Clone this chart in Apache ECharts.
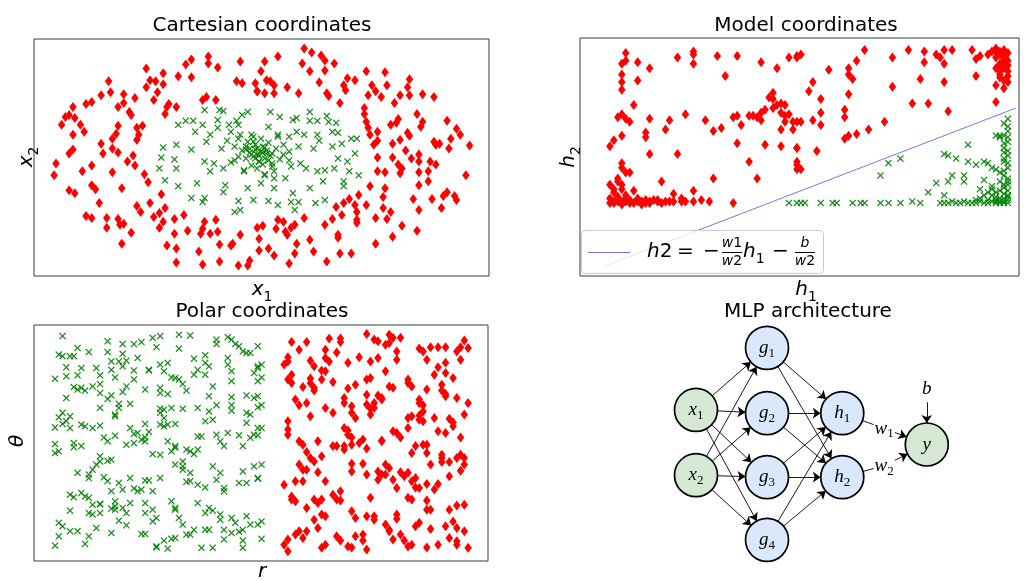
<!DOCTYPE html>
<html>
<head>
<meta charset="utf-8">
<script src="https://cdn.jsdelivr.net/npm/echarts@6/dist/echarts.min.js"></script>
<style>
  html, body { margin: 0; padding: 0; background: #fff; }
  #main { width: 1024px; height: 581px; }
</style>
</head>
<body>
<div id="main"></div>
<script>
// ---------------- data ----------------
// Cartesian coordinates: outer ring (class 1, red) and inner disk (class 0, green)
const cartesianRing = [
  [-0.61,0.89],[-0.52,0.84],[-0.40,0.93],[-0.37,0.98],[-0.28,1.01],[-0.28,0.94],[-0.23,0.90],[-0.11,0.96],[-0.44,0.81],[-0.37,0.80],
  [-0.81,0.76],[-0.80,0.65],[-0.85,0.62],[-0.90,0.55],[-0.93,0.53],[-1.00,0.50],[-1.02,0.42],[-1.04,0.40],[-0.99,0.39],[-1.06,0.32],
  [-0.96,0.32],[-0.94,0.25],[-1.00,0.22],[-1.00,0.07],[-1.02,0.03],[-1.09,-0.07],[-1.10,-0.19],[-0.95,-0.15],[-0.90,-0.09],[-0.85,0.13],
  [-0.84,0.03],[-0.79,0.18],[-0.79,0.08],[-0.76,0.04],[-0.71,-0.05],[-0.68,0.01],[-0.67,-0.09],[-0.62,-0.18],[-0.60,-0.26],[-0.79,-0.16],
  [-0.90,-0.29],[-0.88,-0.33],[-0.74,-0.32],[-1.02,-0.34],[-0.99,-0.37],[-0.86,-0.47],[-0.93,-0.60],[-0.90,-0.62],[-0.82,-0.62],[-0.82,-0.72],
  [-0.76,-0.63],[-0.75,-0.69],[-0.73,-0.68],[-0.69,-0.77],[-0.74,-0.88],[-0.66,-0.50],[-0.64,-0.56],[-0.59,-0.47],[-0.57,-0.61],[-0.54,-0.57],
  [-0.51,-0.52],[-0.53,-0.38],[-0.54,-0.72],[-0.52,-0.66],[-0.46,-0.63],[-0.41,-0.59],[-0.46,-0.78],[-0.39,-0.75],[-0.50,-0.90],[-0.45,-0.93],
  [-0.45,-1.07],[-0.30,-0.66],[-0.31,-0.73],[-0.32,-0.78],[-0.31,-1.09],[-0.33,-0.96],[-0.27,-0.78],[-0.24,-0.64],[-0.23,-0.76],[-0.22,-0.89],
  [-0.22,-1.06],[-0.16,-0.90],[-0.15,-0.88],[-0.11,-0.79],[-0.12,-1.10],[-0.06,-1.05],[-0.07,-1.10],[-0.13,0.76],[-0.10,0.74],[-0.03,0.74],
  [-0.02,0.66],[-0.29,0.60],[-0.24,0.57],[-0.31,0.57],[-0.45,0.50],[-0.50,0.50],[-0.49,0.53],[-0.51,0.43],[-0.57,0.57],[-0.55,0.65],
  [-0.52,0.73],[-0.59,0.77],[-0.56,0.76],[-0.61,0.70],[-0.67,0.59],[-0.73,0.63],[-0.73,0.54],[-0.76,0.50],[-0.70,0.45],[-0.69,0.42],
  [-0.66,0.29],[-0.63,0.31],[-0.65,0.22],[-0.66,0.17],[-0.76,0.31],[-0.77,0.23],
  [0.23,1.09],[0.27,1.05],[0.32,1.02],[0.34,0.97],[0.39,0.94],[0.34,0.87],[0.22,0.94],[0.26,0.86],[0.31,0.75],[0.09,1.01],
  [0.02,0.96],[0.00,0.86],[0.03,0.77],[0.05,0.76],[0.07,0.72],[-0.02,0.66],[0.02,0.64],[0.07,0.64],[0.14,0.70],[0.20,0.64],
  [0.35,0.64],[0.36,0.61],[0.42,0.54],[0.44,0.72],[0.45,0.67],[0.46,0.79],[0.50,0.77],[0.56,0.86],[0.66,0.85],[0.59,0.72],
  [0.57,0.62],[0.61,0.66],[0.64,0.60],[0.67,0.72],[0.74,0.62],[0.78,0.70],[0.79,0.78],[0.79,0.62],[0.86,0.63],[0.92,0.60],
  [0.71,0.54],[0.55,0.49],[0.55,0.43],[0.56,0.35],[0.57,0.29],[0.58,0.22],[0.60,0.12],[0.62,0.25],[0.62,0.16],[0.69,0.32],
  [0.73,0.38],[0.72,0.34],[0.83,0.43],[0.86,0.35],[0.85,0.30],[0.99,0.36],[1.04,0.28],[1.06,0.22],[1.11,0.11],[1.01,0.18],
  [1.00,0.08],[0.70,0.13],[0.74,0.17],[0.78,0.24],[0.79,0.21],[0.77,0.06],[0.80,-0.02],[0.84,0.02],[0.84,-0.05],[0.70,-0.01],
  [0.73,-0.08],[0.75,-0.12],[0.74,-0.17],[0.62,-0.01],[0.62,-0.15],[0.66,-0.16],[0.84,-0.16],[0.89,-0.15],[0.90,-0.05],[0.93,-0.08],
  [0.92,0.15],[0.93,0.12],[0.95,0.13],[0.89,-0.25],[0.84,-0.29],[1.09,-0.19],[0.99,-0.36],[0.97,-0.40],[1.03,-0.40],[1.04,-0.44],
  [0.91,-0.43],[0.96,-0.52],[0.81,-0.43],[0.84,-0.54],[0.58,-0.30],[0.66,-0.32],[0.65,-0.41],[0.65,-0.52],[0.69,-0.56],[0.67,-0.63],
  [0.52,-0.39],[0.50,-0.49],[0.51,-0.56],[0.51,-0.64],[0.51,-0.67],[0.47,-0.43],[0.44,-0.47],[0.40,-0.51],[0.43,-0.59],[0.56,-0.49],
  [0.61,-0.62],[0.61,-0.88],[0.70,-0.81],[0.75,-0.70],[0.83,-0.75],[0.38,-0.63],[0.34,-0.69],[0.41,-0.79],[0.41,-0.82],[0.42,-0.98],
  [0.48,-0.98],[0.35,-1.06],[0.28,-0.96],[0.26,-0.84],[0.23,-0.62],[0.18,-0.69],[0.16,-0.72],[0.19,-0.88],[0.18,-0.98],[0.15,-1.08],
  [0.14,-0.79],[0.13,-0.76],[0.12,-0.66],[0.09,-0.64],[0.08,-0.73],[0.07,-1.00],[0.04,-0.93],[-0.01,-0.95],[-0.01,-0.83],[0.01,-0.70],
  [-0.02,-0.72]
];
const cartesianCore = [
  [-0.52,0.09],[-0.53,-0.01],[-0.54,-0.12],[-0.51,-0.24],[-0.46,-0.03],[-0.45,-0.12],[-0.44,-0.30],[-0.45,0.12],[-0.44,0.32],[-0.40,0.36],
  [-0.36,0.36],[-0.35,0.25],[-0.37,0.07],[-0.37,-0.42],[-0.34,-0.27],[-0.31,-0.46],[-0.30,-0.42],[-0.30,0.47],[-0.30,-0.05],[-0.31,0.32],
  [-0.27,0.22],[-0.29,0.15],[-0.25,-0.07],[-0.23,0.37],[-0.23,0.29],[-0.22,0.47],[-0.20,0.46],[-0.21,0.08],[-0.19,-0.29],[-0.17,0.32],
  [-0.16,0.25],[-0.14,-0.04],[-0.13,0.36],[-0.12,0.32],[-0.10,0.42],[-0.07,0.45],[-0.12,0.18],[-0.12,-0.45],[-0.11,-0.54],[-0.14,-0.56],
  [-0.09,-0.15],[-0.07,-0.32],[-0.04,-0.44],[-0.05,0.22],[-0.01,-0.05],[-0.02,0.08],[-0.08,0.07],[-0.04,0.15],[-0.20,-0.36],[-0.27,-0.15],
  [0.05,0.45],[0.10,0.40],[0.17,0.37],[0.19,0.39],[0.26,0.45],[0.26,0.36],[0.30,0.36],[0.35,0.41],[0.36,0.35],[0.40,0.34],
  [0.04,0.30],[0.09,0.22],[0.15,0.20],[0.19,0.25],[0.20,0.10],[0.23,0.22],[0.30,0.22],[0.31,0.16],[0.28,0.08],[0.38,0.25],
  [0.41,0.24],[0.48,0.18],[0.51,0.18],[0.43,0.13],[0.50,0.03],[0.38,0.10],[0.41,-0.02],[0.46,-0.05],[0.47,-0.15],[0.44,-0.25],
  [0.44,-0.30],[0.52,-0.19],[0.39,-0.12],[0.34,-0.14],[0.30,-0.15],[0.24,-0.12],[0.21,-0.07],[0.15,-0.04],[0.13,-0.22],[0.07,-0.32],
  [0.04,-0.45],[0.09,-0.49],[0.17,-0.37],[0.16,-0.46],[0.20,-0.46],[0.29,-0.47],[0.33,-0.25],[0.34,-0.44],[0.18,-0.54],[0.26,-0.32],
  [0.02,-0.19],[0.00,-0.27],[0.07,-0.22],[0.12,0.02],[0.06,-0.10],
  [-0.02,0.02],[0.00,0.05],[-0.04,0.00],[0.02,-0.02],[-0.06,0.04],[0.03,0.06],[-0.01,-0.05],[0.05,0.01],[-0.08,-0.02],[0.01,0.10],
  [-0.03,0.12],[-0.10,0.06],[0.06,-0.07],[-0.05,-0.09],[0.08,0.08],[-0.12,0.00],[0.04,0.14],[-0.07,0.15],[0.10,-0.03],[-0.02,-0.12],
  [-0.14,0.10],[0.12,0.12],[-0.09,-0.14],[0.07,-0.15],[0.00,0.18],[-0.16,-0.06],[0.15,0.05],[-0.04,0.20],[0.02,-0.18],[-0.18,0.16],
  [0.16,-0.10],[-0.11,0.22],[0.09,0.20],[-0.20,-0.12],[0.03,0.03],[-0.03,-0.02],[0.01,-0.08],[-0.06,0.08],
  [-0.01,0.01],[0.01,0.04],[-0.05,0.02],[0.04,-0.04],[-0.03,0.07],[0.02,0.09],[-0.08,0.10],[0.06,0.03]
];

// Model coordinates: hidden-layer outputs (h1, h2)
const modelRing = [
  [0.04,0.98],[0.04,0.93],[0.03,0.91],[0.07,0.92],[0.10,0.88],[0.07,0.80],[0.03,0.84],[0.03,0.79],[0.03,0.74],[0.06,0.64],
  [0.03,0.58],[0.02,0.56],[0.04,0.55],[0.05,0.53],[0.10,0.55],[0.15,0.54],[0.14,0.48],[0.09,0.46],[0.09,0.43],[0.01,0.41],
  [0.00,0.37],[0.03,0.44],[0.10,0.32],[0.17,0.32],[0.19,0.58],[0.17,0.95],[0.21,0.99],[0.21,0.91],[0.21,0.97],[0.27,0.96],
  [0.32,0.96],[0.29,0.83],[0.38,0.92],[0.42,0.88],[0.45,0.95],[0.47,0.95],[0.24,0.54],[0.26,0.47],[0.28,0.49],[0.31,0.56],
  [0.32,0.57],[0.33,0.51],[0.35,0.57],[0.36,0.57],[0.37,0.56],[0.38,0.54],[0.38,0.59],[0.39,0.61],[0.40,0.69],[0.41,0.72],
  [0.41,0.68],[0.42,0.64],[0.41,0.62],[0.43,0.59],[0.43,0.65],[0.44,0.64],[0.44,0.57],[0.45,0.58],[0.44,0.53],[0.46,0.53],
  [0.43,0.48],[0.46,0.48],[0.47,0.53],[0.32,0.39],[0.39,0.38],[0.43,0.37],[0.47,0.36],[0.35,0.27],[0.37,0.16],[0.26,0.16],
  [0.13,0.14],[0.47,0.27],[0.47,0.22],
  [0.00,0.12],[0.02,0.16],[0.03,0.26],[0.03,0.23],[0.04,0.20],[0.05,0.20],[0.03,0.12],[0.01,0.07],[0.04,0.05],[0.00,0.03],
  [0.01,0.01],[0.02,0.02],[0.03,0.01],[0.04,0.03],[0.04,0.01],[0.05,0.02],[0.07,0.01],[0.08,0.01],[0.09,0.02],[0.10,0.01],
  [0.11,0.02],[0.12,0.01],[0.14,0.01],[0.15,0.01],[0.16,0.06],[0.16,0.01],[0.18,0.01],[0.18,0.03],[0.19,0.01],[0.21,0.08],
  [0.21,0.01],[0.23,0.02],[0.25,0.01],[0.31,0.00],[0.00,0.00],[0.03,-0.01],[0.05,0.00],[0.08,-0.01],[0.10,0.00],
  [0.01,0.00],[0.02,0.01],[0.06,0.00],[0.07,0.03],[0.09,0.00],[0.12,0.02],[0.13,0.00],[0.02,0.04],[0.01,0.09],[0.03,0.09],
  [0.02,0.14],[0.06,0.08],
  [0.47,0.96],[0.48,0.97],[0.55,0.87],[0.60,0.88],[0.62,0.93],[0.64,1.00],[0.71,0.95],[0.75,1.00],[0.79,0.99],[0.79,0.92],
  [0.82,0.97],[0.83,0.95],[0.84,1.00],[0.84,0.91],[0.86,1.00],[0.91,1.00],[0.92,0.94],[0.93,0.96],[0.95,0.97],[0.92,0.83],
  [0.97,1.01],[0.97,0.99],[0.98,0.97],[0.99,1.00],[0.99,0.92],[0.99,0.88],[0.98,0.82],[0.97,0.77],[0.99,0.75],[0.97,0.66],
  [0.98,0.84],[1.00,0.79],[0.97,0.95],[1.00,0.98],[0.99,0.96],[1.00,0.90],[0.98,0.99],[1.00,0.86],
  [0.98,0.91],[0.99,0.94],[0.97,0.88],[1.00,0.93],[0.98,0.86],[0.96,0.99],[0.99,0.80],[1.00,0.83],
  [0.50,0.73],[0.51,0.79],[0.53,0.68],[0.60,0.84],[0.61,0.81],[0.60,0.71],[0.59,0.61],[0.59,0.56],[0.53,0.59],[0.51,0.54],
  [0.53,0.51],[0.48,0.53],[0.60,0.44],[0.59,0.42],[0.62,0.45],[0.65,0.48],[0.69,0.53],[0.71,0.76],[0.76,0.65],[0.80,0.65],
  [0.78,0.81],[0.84,0.79],[0.85,0.60],[0.52,0.34],[0.47,0.36],[0.47,0.25],[0.48,0.22]
];
const modelCore = [
  [0.45,0.00],[0.47,0.00],[0.48,0.00],[0.49,0.00],[0.53,0.00],[0.56,0.00],[0.57,0.00],[0.61,0.00],[0.63,0.00],[0.64,0.00],
  [0.68,0.00],[0.70,0.00],[0.73,0.00],[0.76,0.01],[0.78,0.00],[0.83,0.00],[0.84,0.00],[0.85,0.00],[0.87,0.00],[0.88,0.00],
  [0.90,0.00],[0.91,0.00],[0.92,0.00],[0.94,0.00],[0.95,0.00],[0.97,0.00],[0.98,0.00],[0.99,0.00],[1.00,0.00],
  [0.96,0.01],[0.98,0.03],[0.99,0.01],[1.00,0.04],[0.97,0.01],[0.93,0.01],[0.89,0.01],[0.86,0.01],
  [1.00,0.55],[0.99,0.52],[1.00,0.47],[0.99,0.44],[1.00,0.40],[0.99,0.36],[1.00,0.31],[0.99,0.27],[1.00,0.23],[0.99,0.18],
  [1.00,0.14],[0.99,0.10],[1.00,0.05],[1.00,0.02],[0.98,0.44],[0.97,0.44],[1.00,0.50],[0.99,0.33],[1.00,0.08],[0.99,0.12],
  [1.00,0.12],[0.99,0.06],[1.00,0.16],[0.99,0.21],[1.00,0.26],[0.99,0.29],[1.00,0.34],[0.99,0.39],[1.00,0.43],[0.98,0.08],
  [0.97,0.04],[0.98,0.01],[0.95,0.02],[0.94,0.05],[0.96,0.09],[0.99,0.03],
  [0.68,0.18],[0.70,0.26],[0.73,0.29],[0.90,0.38],[0.84,0.32],[0.85,0.31],[0.87,0.29],[0.90,0.27],[0.92,0.25],[0.94,0.27],
  [0.95,0.26],[0.96,0.23],[0.97,0.22],[0.86,0.18],[0.85,0.14],[0.89,0.18],[0.89,0.14],[0.82,0.13],[0.80,0.07],[0.84,0.05],
  [0.94,0.15],[0.96,0.11],[0.93,0.09],[0.95,0.07],[0.97,0.07],[0.96,0.05],[0.98,0.14],[0.93,0.03],[0.92,0.02],[0.97,0.02],
  [0.98,0.43],[0.98,0.20]
];
// Decision boundary h2 = -(w1/w2) h1 - b/w2, sampled at its two ends
const boundaryLine = [[-0.01,-0.41],[1.02,0.62]];

// Polar coordinates: (r, theta)
const polarRing = [
  [0.63,2.88],[0.67,2.88],[0.65,2.66],[0.73,2.98],[0.76,2.98],[0.76,2.88],[0.72,2.66],[0.75,2.58],[0.62,2.44],[0.62,2.32],
  [0.61,2.23],[0.68,2.34],[0.69,2.18],[0.72,2.42],[0.73,2.32],[0.71,2.06],[0.72,2.04],[0.78,2.28],[0.81,2.44],[0.83,3.11],
  [0.85,2.95],[0.86,2.90],[0.84,2.32],[0.86,2.42],[0.88,2.04],[0.89,3.09],[0.90,3.00],[0.89,2.85],[0.92,3.00],[0.88,2.80],
  [0.91,2.37],[0.91,2.61],[0.98,2.61],[0.97,2.69],[1.00,2.73],[1.02,2.73],[1.04,2.73],[1.07,2.61],[1.08,2.73],[1.09,2.92],
  [1.10,2.71],[0.99,2.37],[1.02,2.15],[1.04,2.28],[1.04,1.99],[1.01,1.94],[1.06,1.84],[1.08,2.37],[0.63,1.94],[0.62,1.80],
  [0.63,1.70],[0.66,1.58],[0.68,1.83],[0.68,1.70],[0.69,1.56],[0.69,1.48],[0.71,1.80],[0.74,1.73],[0.78,1.54],[0.80,1.65],
  [0.83,1.80],[0.83,1.36],[0.84,1.84],[0.89,1.60],[0.90,1.56],[0.86,1.34],[0.87,1.22],[0.87,1.27],[0.85,1.12],[0.85,0.98],
  [0.84,0.79],[0.94,1.80],[0.95,1.60],[0.94,1.70],[0.97,1.22],[0.97,1.12],[0.98,1.06],[0.99,1.51],[1.03,1.48],[1.03,1.65],
  [1.04,1.32],[1.04,1.38],[1.07,1.27],[1.10,1.12],[1.09,0.79],[0.64,1.22],[0.65,1.06],[0.67,1.12],[0.68,0.74],[0.72,0.98],
  [0.74,0.84],[0.77,1.27],[0.77,1.12],[0.79,1.03],[0.79,0.84],[0.80,0.69],[0.83,1.08],[0.84,0.96],[0.94,0.69],[0.95,0.74],
  [0.97,0.76],[0.98,0.88],[0.98,0.60],[0.94,0.40],[0.97,0.64],[1.01,0.69],[1.05,0.67],[1.06,0.57],[1.06,0.45],[1.02,0.31],
  [1.04,0.26],[1.08,0.13],[0.62,0.60],[0.62,0.36],[0.62,0.21],[0.65,0.02],[0.66,-0.08],[0.70,0.02],[0.67,-0.29],[0.68,-0.46],
  [0.69,-0.56],[0.71,-0.41],[0.74,-0.12],[0.75,-0.12],[0.77,0.40],[0.78,0.33],[0.77,-0.22],[0.77,-0.12],[0.78,0.21],[0.79,0.13],
  [0.79,-0.08],[0.81,-0.03],[0.82,0.07],[0.83,-0.19],[0.87,0.04],[0.87,0.02],[0.90,0.31],[0.91,0.26],[0.92,0.13],[0.95,-0.32],
  [0.96,-0.12],[0.98,-0.08],[0.99,-0.08],[0.99,-0.32],[1.00,-0.65],[1.03,-0.37],[1.03,-0.46],[1.03,-0.58],[1.05,-0.58],[1.07,-0.46],
  [1.08,-0.37],[1.09,-0.46],[1.09,-0.65],[1.08,-0.83],[1.05,-0.99],[0.65,-0.65],[0.66,-0.80],[0.67,-0.80],[0.64,-1.13],[0.66,-1.13],
  [0.61,-1.23],[0.70,-0.87],[0.72,-1.13],[0.79,-0.63],[0.79,-0.85],[0.82,-0.63],[0.83,-0.94],[0.86,-0.85],[0.87,-0.94],[0.86,-1.09],
  [0.88,-0.65],[0.89,-0.75],[0.88,-0.94],[0.90,-1.09],[0.91,-1.33],[0.92,-0.87],[0.93,-0.99],[0.94,-0.89],[0.95,-1.13],[0.96,-1.04],
  [0.96,-1.31],[0.97,-1.33],[0.99,-1.21],[1.01,-1.37],[1.02,-1.21],[0.95,-1.66],[0.94,-1.61],[0.99,-1.69],[0.99,-1.95],[1.00,-1.95],
  [1.05,-1.95],[1.07,-1.83],[1.09,-1.81],[0.63,-1.57],[0.63,-1.66],[0.64,-1.71],[0.67,-1.90],[0.69,-1.66],[0.70,-1.76],[0.71,-1.66],
  [0.74,-1.52],[0.75,-1.66],[0.76,-1.42],[0.76,-1.69],[0.84,-1.61],[0.69,-2.24],[0.71,-2.09],[0.72,-2.14],[0.70,-2.48],[0.67,-2.57],
  [0.65,-2.57],[0.66,-2.77],[0.64,-2.67],[0.62,-2.81],[0.61,-2.96],[0.62,-3.15],[0.71,-3.05],[0.72,-2.96],[0.75,-2.72],[0.76,-2.84],
  [0.78,-3.01],[0.79,-3.04],[0.80,-2.72],[0.82,-2.67],[0.82,-2.84],[0.83,-3.10],[0.79,-2.00],[0.80,-2.19],[0.83,-2.14],[0.85,-2.24],
  [0.85,-2.14],[0.88,-2.38],[0.89,-2.53],[0.89,-2.57],[0.91,-2.09],[0.91,-2.21],[0.92,-2.67],[0.93,-2.84],[0.94,-3.01],[0.95,-2.96],
  [0.96,-2.43],[0.97,-2.33],[0.90,-2.81],[0.99,-3.04],[1.02,-2.96],[1.04,-2.43],[1.05,-2.77],[1.06,-2.29],[1.07,-2.48],[1.07,-2.86],
  [1.07,-2.96],[1.09,-2.57],[1.10,-3.05],[1.00,-2.51]
];
const polarCore = [
  [0.02,3.05],[0.14,2.90],[0.18,2.82],[0.21,2.82],[0.23,2.88],[0.26,3.00],[0.28,3.05],[0.33,3.09],[0.36,3.07],[0.43,2.95],
  [0.43,2.82],[0.46,3.02],[0.47,2.95],[0.48,2.82],[0.49,2.76],[0.50,2.61],[0.51,2.56],[0.52,2.56],[0.27,2.73],[0.33,2.69],
  [0.06,2.71],[0.09,2.59],[0.14,2.59],[0.01,2.52],[0.02,2.47],[0.04,2.47],[0.05,2.47],[0.18,2.54],[0.22,2.42],[0.03,2.15],
  [0.07,2.13],[0.11,2.13],[0.15,2.32],[0.17,2.32],[0.19,2.34],[0.15,2.08],[0.18,2.18],[0.21,2.06],[0.25,2.08],[0.25,2.06],
  [0.28,2.23],[0.30,2.28],[0.29,2.04],[0.37,2.40],[0.40,2.50],[0.40,2.28],[0.41,2.18],[0.46,2.42],[0.46,2.23],[0.47,2.04],
  [0.54,2.18],[0.53,1.99],[0.00,1.82],[0.03,1.89],[0.06,1.92],[0.12,1.92],[0.16,1.86],[0.21,1.80],[0.31,1.86],[0.32,1.84],
  [0.33,1.80],[0.34,1.67],[0.35,1.48],[0.37,1.94],[0.40,1.94],[0.38,2.08],[0.47,1.75],[0.54,1.75],[0.05,1.58],[0.06,1.51],
  [0.07,1.56],[0.08,1.48],[0.10,1.60],[0.12,1.67],[0.12,1.41],[0.18,1.44],[0.19,1.60],[0.24,1.51],[0.28,1.56],[0.28,1.41],
  [0.30,1.38],[0.42,1.60],[0.03,1.27],[0.15,1.34],[0.14,1.24],[0.17,1.10],[0.20,1.10],[0.17,0.98],[0.12,0.98],[0.28,0.96],
  [0.29,0.93],[0.31,0.98],[0.34,0.96],[0.38,0.98],[0.41,1.32],[0.41,0.88],[0.43,1.06],[0.47,1.29],[0.47,1.06],[0.47,0.90],
  [0.51,1.34],[0.53,1.27],[0.51,0.84],[0.52,0.79],[0.02,0.84],[0.01,0.71],[0.02,0.52],[0.04,0.74],[0.03,0.60],[0.04,0.40],
  [0.00,0.42],[0.07,0.50],[0.08,0.45],[0.10,0.40],[0.12,0.47],[0.16,0.74],[0.16,0.79],[0.20,0.40],[0.24,0.52],[0.25,0.29],
  [0.21,0.23],[0.22,0.26],[0.23,0.07],[0.24,0.13],[0.24,0.02],[0.28,0.50],[0.29,0.45],[0.30,0.50],[0.32,0.52],[0.29,0.69],
  [0.28,0.84],[0.40,0.60],[0.42,0.64],[0.43,0.21],[0.46,0.26],[0.49,0.19],[0.50,-0.12],[0.52,0.12],[0.53,0.21],[0.54,0.40],
  [0.51,0.55],[0.38,0.16],[0.39,0.16],[0.13,0.13],[0.14,0.02],[0.16,0.18],[0.05,-0.03],[0.05,-0.15],[0.07,-0.12],[0.00,-0.06],
  [0.00,-0.32],[0.01,-0.27],[0.19,-0.08],[0.21,-0.03],[0.26,-0.35],[0.28,-0.37],[0.31,-0.27],[0.32,-0.17],[0.35,-0.22],[0.36,-0.27],
  [0.38,-0.22],[0.37,-0.35],[0.30,0.02],[0.32,-0.12],[0.44,0.02],[0.45,-0.12],[0.12,-0.41],[0.12,-0.56],[0.14,-0.54],[0.15,-0.51],
  [0.11,-0.65],[0.10,-0.80],[0.09,-0.94],[0.06,-0.89],[0.32,-0.65],[0.34,-0.56],[0.34,-0.70],[0.34,-0.80],[0.36,-0.89],[0.36,-1.13],
  [0.35,-1.15],[0.38,-1.23],[0.40,-1.31],[0.42,-0.70],[0.44,-0.89],[0.43,-1.09],[0.45,-1.33],[0.45,-1.42],[0.49,-1.18],[0.51,-1.18],
  [0.50,-0.85],[0.53,-0.70],[0.54,-1.04],[0.09,-1.04],[0.13,-1.02],[0.14,-1.13],[0.20,-1.04],[0.24,-1.11],[0.25,-1.11],[0.28,-1.04],
  [0.17,-1.18],[0.15,-1.42],[0.18,-1.37],[0.21,-1.34],[0.22,-1.42],[0.23,-1.37],[0.26,-1.42],[0.04,-1.52],[0.05,-1.59],[0.07,-1.47],
  [0.08,-1.57],[0.09,-1.61],[0.12,-1.79],[0.10,-1.81],[0.12,-1.79],[0.16,-1.85],[0.16,-1.95],[0.16,-1.71],[0.20,-1.76],[0.24,-1.76],
  [0.31,-1.71],[0.32,-1.90],[0.09,-2.05],[0.10,-2.09],[0.12,-2.05],[0.15,-1.92],[0.18,-1.90],[0.19,-2.05],[0.24,-2.05],[0.26,-1.95],
  [0.27,-2.19],[0.26,-2.29],[0.33,-2.19],[0.34,-2.38],[0.32,-1.95],[0.38,-1.76],[0.41,-1.90],[0.42,-1.98],[0.40,-2.05],[0.44,-2.09],
  [0.44,-2.24],[0.47,-2.19],[0.48,-2.33],[0.51,-2.14],[0.52,-2.38],[0.50,-2.53],[0.04,-1.98],[0.01,-2.33],[0.02,-2.43],[0.04,-2.57],
  [0.01,-2.72],[0.00,-2.99],[0.06,-2.57],[0.09,-2.72],[0.11,-2.48],[0.15,-2.62],[0.17,-2.27],[0.19,-2.40],[0.23,-2.65],[0.24,-2.65],
  [0.27,-3.01],[0.27,-3.04],[0.29,-2.84],[0.31,-2.79],[0.32,-2.77],[0.35,-2.67],[0.36,-2.67],[0.37,-2.53],[0.40,-2.53],[0.41,-2.53],
  [0.39,-3.05],[0.42,-3.05],[0.45,-2.81],[0.45,-2.53],[0.47,-2.62],[0.49,-2.59],[0.50,-2.84],[0.50,-3.05],[0.08,-2.94],[0.30,-3.07],
  [0.54,2.76],[0.55,2.23],[0.54,2.13],[0.55,1.86],[0.54,1.32],[0.55,1.06],[0.54,1.00],[0.55,0.40],[0.54,0.19],[0.55,-0.65],
  [0.54,-1.06],[0.55,-2.29],[0.54,-2.38],[0.55,-2.79]
];

// MLP architecture: [name, column, row, glyph, subscript, role]
const netNodes = [
  ['x1', 0, 0.54, 'x', '1', 'io'],
  ['x2', 0, -0.48, 'x', '2', 'io'],
  ['g1', 1, 1.51, 'g', '1', 'hidden'],
  ['g2', 1, 0.49, 'g', '2', 'hidden'],
  ['g3', 1, -0.51, 'g', '3', 'hidden'],
  ['g4', 1, -1.49, 'g', '4', 'hidden'],
  ['h1', 2.06, 0.49, 'h', '1', 'hidden'],
  ['h2', 2.06, -0.51, 'h', '2', 'hidden'],
  ['y', 3.25, 0, 'y', '', 'io'],
  ['w1', 2.65, 0.25, 'w', '1', 'weight'],
  ['w2', 2.65, -0.33, 'w', '2', 'weight'],
  ['b', 3.25, 0.66, 'b', '', 'bias']
];
const netLinks = [
  ['x1','g1'],['x1','g2'],['x1','g3'],['x1','g4'],
  ['x2','g1'],['x2','g2'],['x2','g3'],['x2','g4'],
  ['g1','h1'],['g1','h2'],['g2','h1'],['g2','h2'],
  ['g3','h1'],['g3','h2'],['g4','h1'],['g4','h2'],
  ['h1','w1'],['w1','y'],['h2','w2'],['w2','y'],['b','y']
];

const panelTitles = ['Cartesian coordinates', 'Model coordinates', 'Polar coordinates', 'MLP architecture'];

// ---------------- styling helpers ----------------
const SANS = '"DejaVu Sans", sans-serif';
const SERIF = '"Liberation Serif", "DejaVu Serif", serif';
const RED = '#ff0000';
const GREEN = '#008000';
const DIAMOND = 'path://M0,-1L0.62,0L0,1L-0.62,0Z';
const CROSS = 'path://M-1,-0.75L-0.75,-1L0,-0.25L0.75,-1L1,-0.75L0.25,0L1,0.75L0.75,1L0,0.25L-0.75,1L-1,0.75L-0.25,0Z';

const mathRich = {
  i: { fontFamily: SANS, fontStyle: 'italic', fontSize: 20, lineHeight: 28, color: '#000' },
  n: { fontFamily: SANS, fontSize: 20, lineHeight: 28, color: '#000' },
  s: { fontFamily: SANS, fontSize: 14, verticalAlign: 'bottom', color: '#000' },
  fi: { fontFamily: SANS, fontStyle: 'italic', fontSize: 14, lineHeight: 16, color: '#000' },
  fn: { fontFamily: SANS, fontSize: 14, lineHeight: 16, color: '#000' }
};

function textEl(x, y, text, opts) {
  opts = opts || {};
  return {
    type: 'text', x: x, y: y, rotation: opts.rotation || 0, z: 100, silent: true,
    style: {
      text: text, rich: mathRich,
      font: opts.font || ('20px ' + SANS),
      fill: '#000',
      align: opts.align || 'center',
      verticalAlign: 'middle'
    }
  };
}

function scatter(data, idx, red) {
  return {
    type: 'scatter', xAxisIndex: idx, yAxisIndex: idx, data: data,
    symbol: red ? DIAMOND : CROSS,
    symbolSize: red ? [7.5, 10] : 7,
    itemStyle: { color: red ? RED : GREEN, opacity: red ? 1 : 0.9 },
    silent: true, z: 3
  };
}

// ---------------- network graph ----------------
const nodeFill = { io: '#d5e8d4', hidden: '#dae8fc' };
const graphData = netNodes.map(function (n) {
  const role = n[5];
  const item = { name: n[0], value: [n[1], n[2]], glyph: n[3], sub: n[4] };
  if (role === 'io' || role === 'hidden') {
    item.symbolSize = 43;
    item.itemStyle = { color: nodeFill[role], borderColor: '#000', borderWidth: 1.7 };
    item.label = { position: 'inside' };
  } else {
    item.symbolSize = 2;
    item.itemStyle = { color: 'rgba(0,0,0,0)', borderWidth: 0 };
    item.label = role === 'bias'
      ? { position: 'top', distance: 0 }
      : { position: 'inside', backgroundColor: '#fff', padding: [0, 1] };
  }
  return item;
});
const graphLinks = netLinks.map(function (l) {
  const link = { source: l[0], target: l[1] };
  if (l[1] === 'w1' || l[1] === 'w2') link.symbol = ['none', 'none'];
  return link;
});

const nodeRich = {
  i: { fontFamily: SERIF, fontStyle: 'italic', fontSize: 19, lineHeight: 24, color: '#000' },
  s: { fontFamily: SERIF, fontSize: 13, verticalAlign: 'bottom', color: '#000' }
};

// ---------------- chart ----------------
const chart = echarts.init(document.getElementById('main'), null, { renderer: 'canvas' });

const frame = { show: true, borderColor: '#3a3a3a', borderWidth: 1, backgroundColor: '#fff' };
const hiddenAxis = { type: 'value', show: false, scale: false };

const option = {
  animation: false,
  backgroundColor: '#fff',
  grid: [
    Object.assign({ left: 34, top: 39, width: 455, height: 237 }, frame),
    Object.assign({ left: 580, top: 38, width: 439, height: 238 }, frame),
    Object.assign({ left: 34, top: 325, width: 454, height: 236 }, frame),
    { left: 660.5, top: 329.3, width: 300, height: 230.4, show: false }
  ],
  xAxis: [
    Object.assign({ gridIndex: 0, min: -1.207, max: 1.213 }, hiddenAxis),
    Object.assign({ gridIndex: 1, min: -0.075, max: 1.028 }, hiddenAxis),
    Object.assign({ gridIndex: 2, min: -0.056, max: 1.153 }, hiddenAxis),
    Object.assign({ gridIndex: 3, min: -0.5, max: 3.725 }, hiddenAxis)
  ],
  yAxis: [
    Object.assign({ gridIndex: 0, min: -1.207, max: 1.187 }, hiddenAxis),
    Object.assign({ gridIndex: 1, min: -0.477, max: 1.078 }, hiddenAxis),
    Object.assign({ gridIndex: 2, min: -3.43, max: 3.37 }, hiddenAxis),
    Object.assign({ gridIndex: 3, min: -1.8, max: 1.8 }, hiddenAxis)
  ],
  series: [
    scatter(cartesianRing, 0, true),
    scatter(cartesianCore, 0, false),
    {
      type: 'line', xAxisIndex: 1, yAxisIndex: 1, data: boundaryLine,
      symbol: 'none', silent: true, z: 2,
      lineStyle: { color: '#0000ff', width: 1, opacity: 0.55 }
    },
    scatter(modelRing, 1, true),
    scatter(modelCore, 1, false),
    scatter(polarRing, 2, true),
    scatter(polarCore, 2, false),
    {
      type: 'graph', coordinateSystem: 'cartesian2d', xAxisIndex: 3, yAxisIndex: 3,
      layout: 'none', silent: true, roam: false, z: 3,
      data: graphData, links: graphLinks,
      edgeSymbol: ['none', 'arrow'], edgeSymbolSize: 8,
      lineStyle: { color: '#000', width: 0.9, opacity: 1, curveness: 0 },
      label: {
        show: true, color: '#000',
        formatter: function (p) {
          return p.data.sub ? '{i|' + p.data.glyph + '}{s|' + p.data.sub + '}' : '{i|' + p.data.glyph + '}';
        },
        rich: nodeRich
      },
      emphasis: { disabled: true }
    }
  ],
  graphic: [
    // panel titles
    textEl(262, 26, panelTitles[0]),
    textEl(806, 26, panelTitles[1]),
    textEl(262, 312, panelTitles[2]),
    textEl(808, 312, panelTitles[3]),
    // axis labels
    textEl(262, 290, '{i|x}{s|1}'),
    textEl(27, 157, '{i|x}{s|2}', { rotation: Math.PI / 2 }),
    textEl(806, 290, '{i|h}{s|1}'),
    textEl(569, 157, '{i|h}{s|2}', { rotation: Math.PI / 2 }),
    textEl(18, 441, '{i|θ}', { rotation: Math.PI / 2 }),
    textEl(262, 572, '{i|r}'),
    // legend of the decision boundary
    {
      type: 'rect', z: 99, silent: true,
      shape: { x: 581.5, y: 230.5, width: 242, height: 43, r: 4 },
      style: { fill: 'rgba(255,255,255,0.8)', stroke: '#cccccc', lineWidth: 1 }
    },
    {
      type: 'line', z: 100, silent: true,
      shape: { x1: 588, y1: 252.5, x2: 630, y2: 252.5 },
      style: { stroke: '#0000ff', opacity: 0.55, lineWidth: 1 }
    },
    textEl(647, 252, '{i|h}{n|2}', { align: 'left' }),
    textEl(677, 252, '{n|=}', { align: 'left' }),
    textEl(703, 252, '{n|−}', { align: 'left' }),
    textEl(732, 243, '{fi|w}{fn|1}'),
    { type: 'line', z: 100, silent: true, shape: { x1: 722, y1: 252.5, x2: 742, y2: 252.5 }, style: { stroke: '#000', lineWidth: 1 } },
    textEl(732, 261, '{fi|w}{fn|2}'),
    textEl(743, 252, '{i|h}{s|1}', { align: 'left' }),
    textEl(772, 252, '{n|−}', { align: 'left' }),
    textEl(805, 243, '{fi|b}'),
    { type: 'line', z: 100, silent: true, shape: { x1: 795, y1: 252.5, x2: 815, y2: 252.5 }, style: { stroke: '#000', lineWidth: 1 } },
    textEl(805, 261, '{fi|w}{fn|2}')
  ]
};

chart.setOption(option);
</script>
</body>
</html>
